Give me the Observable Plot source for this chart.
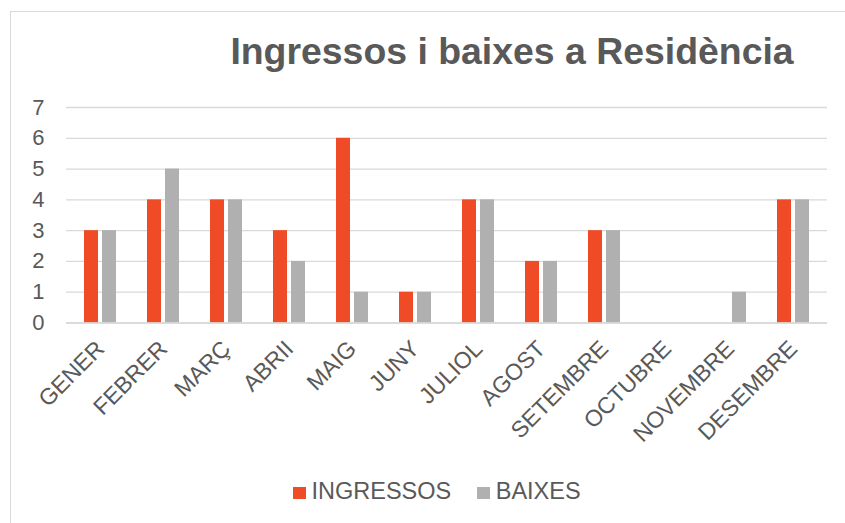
<!DOCTYPE html>
<html>
<head>
<meta charset="utf-8">
<script src="https://cdn.jsdelivr.net/npm/d3@7"></script>
<script src="https://cdn.jsdelivr.net/npm/@observablehq/plot@0.6"></script>
<style>
  html, body { margin: 0; padding: 0; background: #fff; }
  body { width: 845px; height: 523px; overflow: hidden; position: relative; font-family: "Liberation Sans", Arial, sans-serif; color: #595959; }
  #frame { position: absolute; left: 10px; top: 11px; width: 900px; height: 600px; border: 1.5px solid #d9d9d9; box-sizing: border-box; }
  #title { position: absolute; left: 0; width: 1024px; top: 30px; text-align: center; font-weight: bold; font-size: 37.4px; line-height: 42px; color: #595959; white-space: nowrap; }
  #chart { position: absolute; left: 0; top: 90px; }
  #legend { position: absolute; left: 293px; top: 477px; font-size: 23.5px; line-height: 28px; white-space: nowrap; color: #595959; }
  .sw { display: inline-block; width: 12.5px; height: 12.5px; margin-right: 6px; vertical-align: 0px; }
</style>
</head>
<body>
<div id="frame"></div>
<div id="title">Ingressos i baixes a Residència</div>
<div id="chart"></div>
<div id="legend"></div>
<script>
const months = ["GENER","FEBRER","MARÇ","ABRII","MAIG","JUNY","JULIOL","AGOST","SETEMBRE","OCTUBRE","NOVEMBRE","DESEMBRE"];
const ingressos = [3,4,4,3,6,1,4,2,3,0,0,4];
const baixes = [3,5,4,2,1,1,4,2,3,0,1,4];
const seriesNames = ["INGRESSOS","BAIXES"];
const seriesColors = ["#ee4b26","#b0b0b0"];
const yTicks = [0,1,2,3,4,5,6,7];

const dataIng = months.map((m, i) => ({month: m, value: ingressos[i]}));
const dataBaix = months.map((m, i) => ({month: m, value: baixes[i]}));

const chart = Plot.plot({
  width: 845,
  height: 370,
  marginTop: 17,
  marginBottom: 137.5,
  marginLeft: 66,
  marginRight: 18,
  style: {fontFamily: "'Liberation Sans', Arial, sans-serif", fontSize: "22px", color: "#595959", background: "transparent"},
  x: {domain: months, paddingInner: 0.78, paddingOuter: 0.39},
  y: {domain: [0, 7], ticks: yTicks},
  marks: [
    Plot.gridY(yTicks, {stroke: "#d9d9d9", strokeOpacity: 1, strokeWidth: 1.3}),
    Plot.barY(dataIng, {x: "month", y: "value", fill: seriesColors[0], dx: -9}),
    Plot.barY(dataBaix, {x: "month", y: "value", fill: seriesColors[1], dx: 9}),
    Plot.ruleY([0], {stroke: "#d9d9d9", strokeWidth: 1.3}),
    Plot.axisY({ticks: yTicks, tickFormat: "d", tickSize: 0, tickPadding: 22, fontSize: 22, fill: "#595959", label: null}),
    Plot.axisX({tickSize: 0, tickPadding: 22, tickRotate: -45, fontSize: 23, fill: "#595959", label: null})
  ]
});
document.getElementById("chart").appendChild(chart);

const legend = document.getElementById("legend");
seriesNames.forEach((name, i) => {
  const item = document.createElement("span");
  item.style.marginRight = i === 0 ? "26px" : "0";
  const sw = document.createElement("span");
  sw.className = "sw";
  sw.style.background = seriesColors[i];
  item.appendChild(sw);
  item.appendChild(document.createTextNode(name));
  legend.appendChild(item);
});
</script>
</body>
</html>
